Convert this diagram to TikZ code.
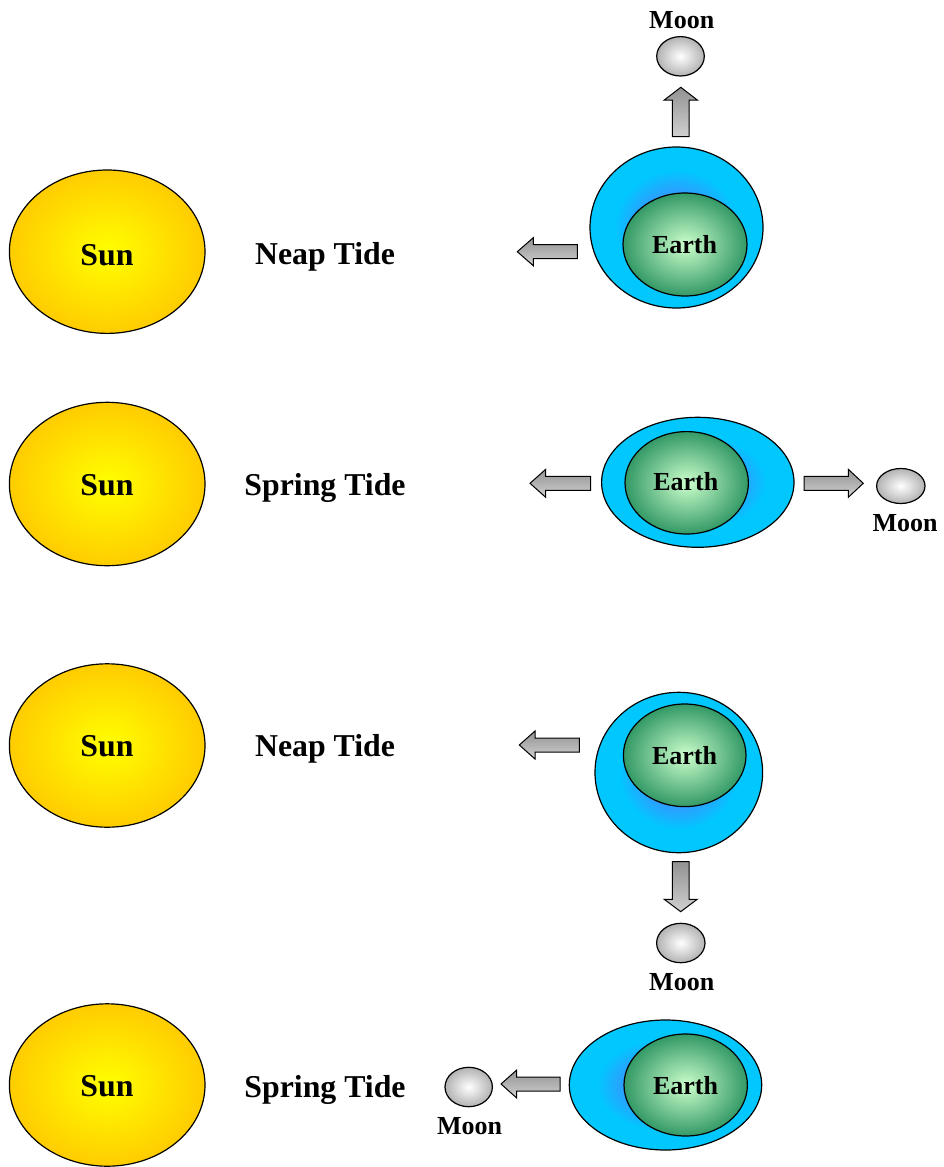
\documentclass[tikz,border=0pt]{standalone}
\usepackage{fontspec}
\setmainfont{Liberation Serif}
\definecolor{oceancyan}{HTML}{00C8FF}
\definecolor{oceanblue}{HTML}{3399FF}
\definecolor{sungold}{HTML}{FFCC00}
\definecolor{sunyellow}{HTML}{FFFF00}
\definecolor{earthdark}{HTML}{339966}
\definecolor{earthlight}{HTML}{CCFFCC}
\definecolor{moongray}{HTML}{B2B2B2}
\definecolor{arrowdark}{HTML}{929292}
\definecolor{arrowlight}{HTML}{D0D0D0}
\pgfdeclareradialshading{oceanshade}{\pgfpoint{0bp}{0bp}}{color(0bp)=(oceanblue); color(10bp)=(oceanblue); color(18bp)=(oceancyan); color(25bp)=(oceancyan); color(50bp)=(oceancyan)}
\tikzset{
  body/.style={draw=black, line width=1.2pt},
  sunbody/.style={body, inner color=sunyellow, outer color=sungold},
  earthbody/.style={body, inner color=earthlight, outer color=earthdark},
  moonbody/.style={body, inner color=white, outer color=moongray},
  oceanbody/.style={body, shade, shading=oceanshade},
  force/.style={draw=black, line width=1pt, top color=arrowdark, bottom color=arrowlight, line join=miter},
  bigtext/.style={font=\fontsize{31.8}{36}\selectfont\bfseries, anchor=base, inner sep=0pt},
  smalltext/.style={font=\fontsize{26}{30}\selectfont\bfseries, anchor=base, inner sep=0pt},
}
% horizontal block arrow: tip x, centre y, head base x, tail x
\newcommand\lforce[4]{%
  \path[force] (#1,#2) -- (#3,#2-14) -- (#3,#2-7) -- (#4,#2-7) -- (#4,#2+7) -- (#3,#2+7) -- (#3,#2+14) -- cycle;}
% vertical block arrow: centre x, tip y, head base y, tail y
\newcommand\vforce[4]{%
  \path[force] (#1,#2) -- (#1+16.5,#3) -- (#1+8.4,#3) -- (#1+8.4,#4) -- (#1-8.4,#4) -- (#1-8.4,#3) -- (#1-16.5,#3) -- cycle;}
\begin{document}
\begin{tikzpicture}[x=1pt,y=-1pt]
\useasboundingbox (0,0) rectangle (943,1167);

% ---------- Row 1: Neap tide, Moon above ----------
\path[sunbody] (107.2,251.7) ellipse [x radius=97.8pt, y radius=81.7pt];
\path[oceanbody] (676.5,227.5) ellipse [x radius=86.5pt, y radius=80.5pt];
\path[earthbody] (685,244.5) ellipse [x radius=62pt, y radius=51.5pt];
\path[moonbody] (680.5,56.3) ellipse [x radius=23.8pt, y radius=19.7pt];
\vforce{680.8}{87.3}{100}{136.7}
\lforce{517.3}{251.7}{533.3}{577.3}
\node[bigtext] (sun1) at (107,265) {Sun};
\node[bigtext] (tide1) at (325,264) {Neap Tide};
\node[smalltext] (earth1) at (684.5,253.3) {Earth};
\node[smalltext] (moon1) at (681.7,28.3) {Moon};

% ---------- Row 2: Spring tide, Moon right ----------
\path[sunbody] (107.2,484) ellipse [x radius=97.8pt, y radius=81.7pt];
\path[oceanbody] (697.8,482.3) ellipse [x radius=96.2pt, y radius=65pt];
\path[earthbody] (686.7,482.8) ellipse [x radius=61.7pt, y radius=51.2pt];
\path[moonbody] (900.8,486) ellipse [x radius=24.2pt, y radius=17.5pt];
\lforce{530}{483.3}{545.7}{590.7}
\lforce{863.3}{483.3}{848.3}{804}
\node[bigtext] (sun2) at (107,495) {Sun};
\node[bigtext] (tide2) at (325,495.5) {Spring Tide};
\node[smalltext] (earth2) at (685.8,490.7) {Earth};
\node[smalltext] (moon2) at (905,531.7) {Moon};

% ---------- Row 3: Neap tide, Moon below ----------
\path[sunbody] (107.2,745.5) ellipse [x radius=97.8pt, y radius=81.7pt];
\path[oceanbody] (678.8,772.5) ellipse [x radius=83.8pt, y radius=80.2pt];
\path[earthbody] (684.7,755.3) ellipse [x radius=61.3pt, y radius=51.3pt];
\path[moonbody] (680.8,943) ellipse [x radius=24.2pt, y radius=19.7pt];
\lforce{519.3}{745}{535}{579.3}
\vforce{680.7}{911.7}{899.3}{861.7}
\node[bigtext] (sun3) at (107,756.7) {Sun};
\node[bigtext] (tide3) at (325,756) {Neap Tide};
\node[smalltext] (earth3) at (684.5,764.3) {Earth};
\node[smalltext] (moon3) at (681.7,990) {Moon};

% ---------- Row 4: Spring tide, Moon left ----------
\path[sunbody] (107.2,1085) ellipse [x radius=97.8pt, y radius=81.2pt];
\path[oceanbody] (665.5,1085) ellipse [x radius=96.2pt, y radius=65pt];
\path[earthbody] (685.7,1085) ellipse [x radius=61.7pt, y radius=51pt];
\path[moonbody] (468.7,1087) ellipse [x radius=23.7pt, y radius=19.7pt];
\lforce{501}{1084}{516.7}{560}
\node[bigtext] (sun4) at (107,1096) {Sun};
\node[bigtext] (tide4) at (325,1097) {Spring Tide};
\node[smalltext] (earth4) at (685.5,1094) {Earth};
\node[smalltext] (moon4) at (469.5,1134) {Moon};
\end{tikzpicture}
\end{document}
